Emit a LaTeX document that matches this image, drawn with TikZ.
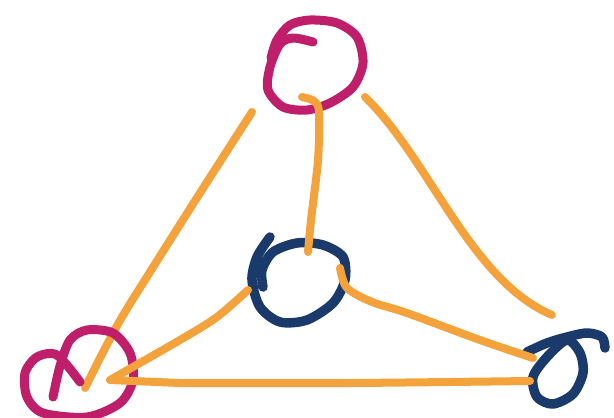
\documentclass[tikz,border=0pt]{standalone}
\usepackage{xcolor}
\definecolor{sketchmagenta}{HTML}{BE1E6A}
\definecolor{sketchnavy}{HTML}{1A3A6C}
\definecolor{sketchorange}{HTML}{F4A23C}

\begin{document}
\begin{tikzpicture}[
  x=1pt,
  y=-1pt,
  ink/.style={line cap=round, line join=round},
  magentaink/.style={ink, sketchmagenta, line width=9pt},
  navyink/.style={ink, sketchnavy, line width=9.5pt},
  orangeink/.style={ink, sketchorange, line width=8pt}
]
  % ---- page frame, same size as the sketch (pixels as points)
  \useasboundingbox (0,0) rectangle (614,418);

  % ---- left edge, from the top loop down to the bottom-left loop --------
  \draw[orangeink] plot[smooth] coordinates
    {(252,112) (200,193) (150,272) (122,317) (100,358) (85,388)};

  % ---- top loop (magenta) ---------------------------------------------
  \draw[magentaink] plot[smooth] coordinates
    {(313,42) (293,38) (280,44) (270,67) (268,90) (283,107) (307,110)
     (330,103) (353,87) (363,63) (357,37) (337,23) (310,20) (290,25)
     (277,40) (271,58)};

  % ---- centre loop (navy) ---------------------------------------------
  \draw[navyink] plot[smooth] coordinates
    {(270,237) (257,257) (252,280) (260,307) (280,322) (307,320)
     (333,303) (345,280) (343,257) (323,245) (297,243) (273,252)
     (262,270) (263,287)};

  % ---- bottom-left loop (magenta) -------------------------------------
  \draw[magentaink] plot[smooth] coordinates
    {(80,382) (57,355) (37,357) (25,373) (27,397) (43,413) (87,417)
     (120,403) (133,380) (130,353) (113,333) (87,330) (70,340)
     (60,366) (53,397)};

  % ---- bottom-right sigma (navy) --------------------------------------
  \draw[navyink] plot[smooth cycle] coordinates
    {(567,340) (547,357) (533,377) (537,397) (553,404) (573,394)
     (583,373) (580,353)};
  \draw[navyink] plot[smooth] coordinates
    {(527,352) (547,343) (567,337) (587,333) (602,337) (605,348)};

  % ---- the other orange edges, drawn over the loops -------------------
  \draw[orangeink] plot[smooth] coordinates
    {(302,97) (314,101) (319,112) (318,160) (311,220) (308,252)};
  \draw[orangeink] (365,97) .. controls (430,160) and (470,280) .. (552,315);
  \draw[orangeink] plot[smooth] coordinates
    {(248,290) (217,317) (180,340) (110,380)}
    -- plot[smooth] coordinates {(180,383) (350,383) (530,381)};
  \draw[orangeink] plot[smooth] coordinates
    {(340,268) (347,288) (372,302) (407,313) (480,340) (533,358)};
\end{tikzpicture}
\end{document}
